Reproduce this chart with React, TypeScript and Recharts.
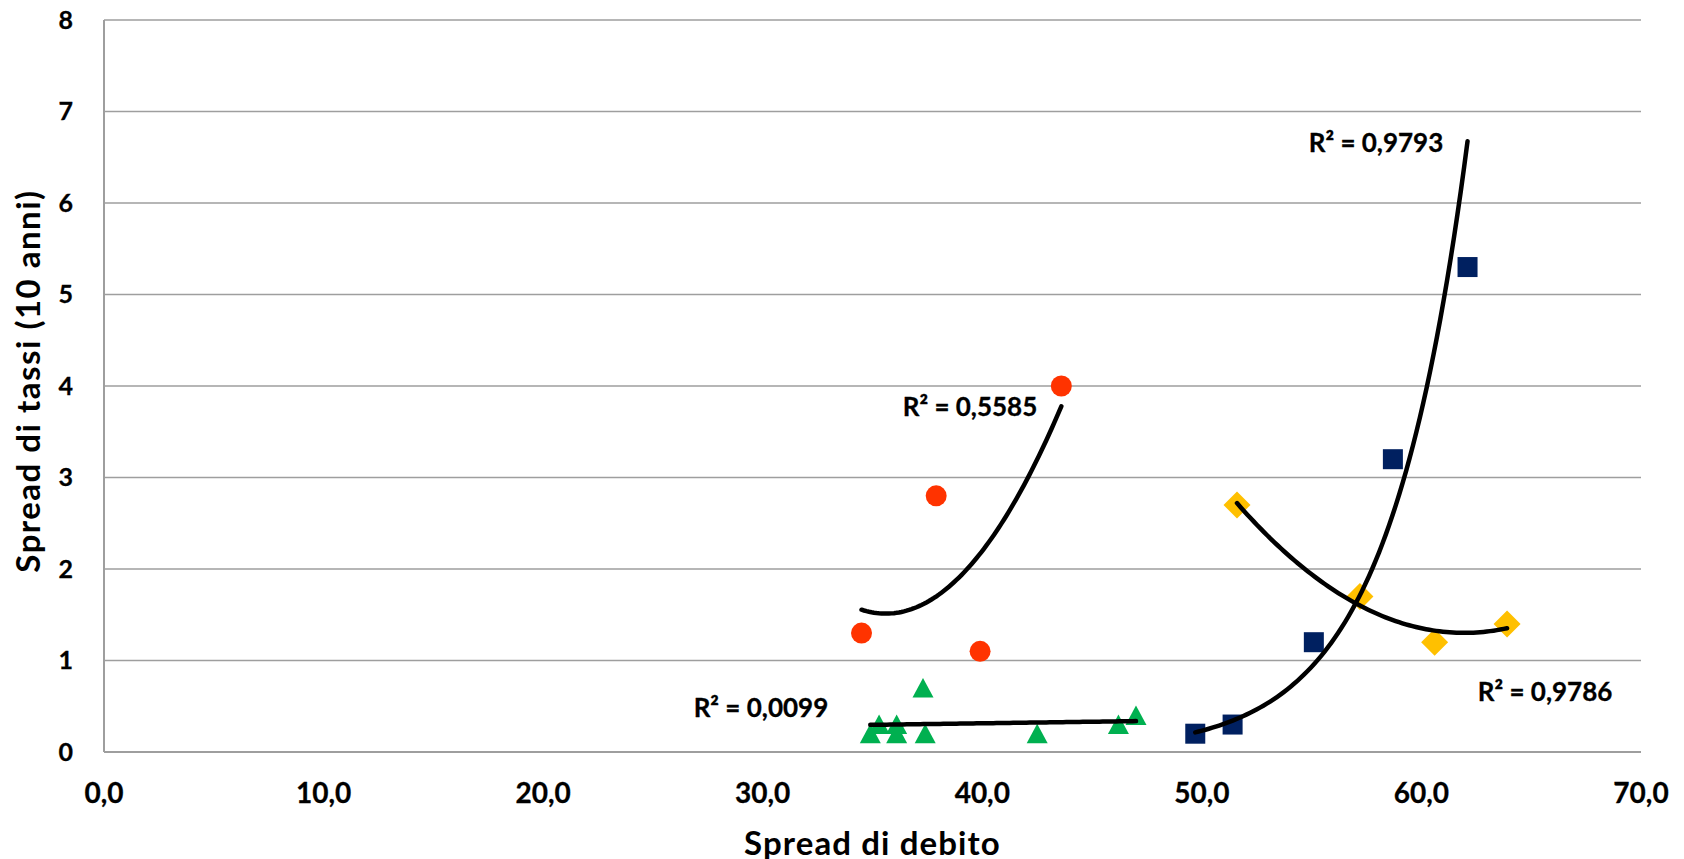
import React from 'react';
import { ScatterChart, Scatter, XAxis, YAxis, CartesianGrid, Label } from 'recharts';

// ---- data ----
const redX = [34.5, 37.9, 39.9, 43.6];
const redY = [1.3, 2.8, 1.1, 4.0];

const greenX = [34.9, 35.3, 36.1, 36.1, 37.3, 37.4, 42.5, 46.2, 47.0];
const greenY = [0.2, 0.3, 0.2, 0.3, 0.7, 0.2, 0.2, 0.3, 0.4];

const navyX = [49.7, 51.4, 55.1, 58.7, 62.1];
const navyY = [0.2, 0.3, 1.2, 3.2, 5.3];

const yellowX = [51.6, 57.2, 60.6, 63.9];
const yellowY = [2.7, 1.7, 1.2, 1.4];

const xTicks = [0, 10, 20, 30, 40, 50, 60, 70];
const yTicks = [0, 1, 2, 3, 4, 5, 6, 7, 8];

const r2Texts = ['R² = 0,5585', 'R² = 0,0099', 'R² = 0,9793', 'R² = 0,9786'];
const r2X = [39.44, 29.92, 57.93, 65.63];
const r2Y = [3.675, 0.387, 6.557, 0.557];

const xTitle = 'Spread di debito';
const yTitle = 'Spread di tassi (10 anni)';

// ---- helpers ----
const zip = (xs: number[], ys: number[]) => xs.map((x, i) => ({ x, y: ys[i] }));

function linearFit(xs: number[], ys: number[]) {
  const n = xs.length;
  const mx = xs.reduce((a, b) => a + b, 0) / n;
  const my = ys.reduce((a, b) => a + b, 0) / n;
  let sxy = 0, sxx = 0;
  xs.forEach((x, i) => { sxy += (x - mx) * (ys[i] - my); sxx += (x - mx) * (x - mx); });
  const b = sxy / sxx;
  const a = my - b * mx;
  return (x: number) => a + b * x;
}

function expFit(xs: number[], ys: number[]) {
  const f = linearFit(xs, ys.map((v) => Math.log(v)));
  return (x: number) => Math.exp(f(x));
}

function poly2Fit(xs: number[], ys: number[]) {
  const c = xs.reduce((a, b) => a + b, 0) / xs.length;
  const t = xs.map((x) => x - c);
  const S = (p: number) => t.reduce((a, v) => a + Math.pow(v, p), 0);
  const T = (p: number) => t.reduce((a, v, i) => a + Math.pow(v, p) * ys[i], 0);
  const M = [
    [S(0), S(1), S(2), T(0)],
    [S(1), S(2), S(3), T(1)],
    [S(2), S(3), S(4), T(2)],
  ];
  for (let i = 0; i < 3; i++) {
    for (let k = i + 1; k < 3; k++) {
      const f = M[k][i] / M[i][i];
      for (let j = i; j < 4; j++) M[k][j] -= f * M[i][j];
    }
  }
  const sol = [0, 0, 0];
  for (let i = 2; i >= 0; i--) {
    let s = M[i][3];
    for (let j = i + 1; j < 3; j++) s -= M[i][j] * sol[j];
    sol[i] = s / M[i][i];
  }
  return (x: number) => sol[0] + sol[1] * (x - c) + sol[2] * (x - c) * (x - c);
}

function curve(xs: number[], f: (x: number) => number, n = 80) {
  const lo = Math.min(...xs);
  const hi = Math.max(...xs);
  const pts = [];
  for (let i = 0; i <= n; i++) {
    const x = lo + ((hi - lo) * i) / n;
    pts.push({ x, y: f(x) });
  }
  return pts;
}

const redData = zip(redX, redY);
const greenData = zip(greenX, greenY);
const navyData = zip(navyX, navyY);
const yellowData = zip(yellowX, yellowY);

const redTrend = curve(redX, poly2Fit(redX, redY));
const greenTrend = curve(greenX, linearFit(greenX, greenY));
const navyTrend = curve(navyX, expFit(navyX, navyY));
const yellowTrend = curve(yellowX, poly2Fit(yellowX, yellowY));

const labelData = r2Texts.map((text, i) => ({ x: r2X[i], y: r2Y[i], text }));

const FONT = 'Lato, "Open Sans", sans-serif';

const Circle = (p: any) => <circle cx={p.cx} cy={p.cy} r={10.5} fill="#FF3300" />;
const Square = (p: any) => <rect x={p.cx - 10} y={p.cy - 10} width={20} height={20} fill="#002060" />;
const Diamond = (p: any) => (
  <path d={`M${p.cx},${p.cy - 13.5}L${p.cx + 13.5},${p.cy}L${p.cx},${p.cy + 13.5}L${p.cx - 13.5},${p.cy}Z`} fill="#FFC000" />
);
const Triangle = (p: any) => (
  <path d={`M${p.cx},${p.cy - 10}L${p.cx + 10.5},${p.cy + 9.5}L${p.cx - 10.5},${p.cy + 9.5}Z`} fill="#00B050" />
);
const Nothing = () => <g />;
const TextMark = (p: any) => (
  <text x={p.cx} y={p.cy} textAnchor="middle" fontFamily={FONT} fontWeight={700} fontSize={26} fill="#000" stroke="#000" strokeWidth={0.3}>
    {p.payload.text}
  </text>
);

const trendLine = { stroke: '#000', strokeWidth: 4.5, strokeLinecap: 'round' as const, fill: 'none' };

const fmtX = (v: number) => v.toFixed(1).replace('.', ',');

export default function App() {
  return (
    <div style={{ position: 'absolute', left: 0, top: 0, width: 1684, height: 859, background: '#fff' }}>
      <ScatterChart width={1684} height={859} margin={{ top: 20, right: 43, bottom: 0, left: 0 }}>
        <CartesianGrid horizontal vertical={false} stroke="#9E9E9E" strokeWidth={1.5} />
        <XAxis
          type="number"
          dataKey="x"
          domain={[0, 70]}
          ticks={xTicks}
          tickFormatter={fmtX}
          height={107}
          tickLine={false}
          tickSize={0}
          tickMargin={31}
          axisLine={{ stroke: '#9E9E9E', strokeWidth: 2 }}
          tick={{ fill: '#000', fontFamily: FONT, fontWeight: 700, fontSize: 28, stroke: '#000', strokeWidth: 0.3 }}
          interval={0}
        >
          <Label
            content={(props: any) => {
              const vb = props.viewBox || { x: 104, y: 752, width: 1537, height: 107 };
              return (
                <text x={vb.x + vb.width / 2} y={vb.y + 103} textAnchor="middle" fontFamily={FONT} fontWeight={700} fontSize={33} letterSpacing={1.1} fill="#000">
                  {xTitle}
                </text>
              );
            }}
          />
        </XAxis>
        <YAxis
          type="number"
          dataKey="y"
          domain={[0, 8]}
          ticks={yTicks}
          width={104}
          tickLine={false}
          tickSize={0}
          tickMargin={31}
          axisLine={{ stroke: '#9E9E9E', strokeWidth: 2 }}
          tick={{ fill: '#000', fontFamily: FONT, fontWeight: 700, fontSize: 25, stroke: '#000', strokeWidth: 0.3 }}
          interval={0}
        >
          <Label
            content={(props: any) => {
              const vb = props.viewBox || { x: 0, y: 20, width: 104, height: 732 };
              const cx = vb.x + 40;
              const cy = vb.y + vb.height / 2 - 5;
              return (
                <text x={cx} y={cy} transform={`rotate(-90 ${cx} ${cy})`} textAnchor="middle" fontFamily={FONT} fontWeight={700} fontSize={33} letterSpacing={1.5} fill="#000">
                  {yTitle}
                </text>
              );
            }}
          />
        </YAxis>

        <Scatter data={redData} shape={Circle} isAnimationActive={false} />
        <Scatter data={greenData} shape={Triangle} isAnimationActive={false} />
        <Scatter data={navyData} shape={Square} isAnimationActive={false} />
        <Scatter data={yellowData} shape={Diamond} isAnimationActive={false} />

        <Scatter data={redTrend} line={trendLine} lineType="joint" shape={Nothing} isAnimationActive={false} />
        <Scatter data={greenTrend} line={trendLine} lineType="joint" shape={Nothing} isAnimationActive={false} />
        <Scatter data={navyTrend} line={trendLine} lineType="joint" shape={Nothing} isAnimationActive={false} />
        <Scatter data={yellowTrend} line={trendLine} lineType="joint" shape={Nothing} isAnimationActive={false} />

        <Scatter data={labelData} shape={TextMark} isAnimationActive={false} />
      </ScatterChart>
    </div>
  );
}
